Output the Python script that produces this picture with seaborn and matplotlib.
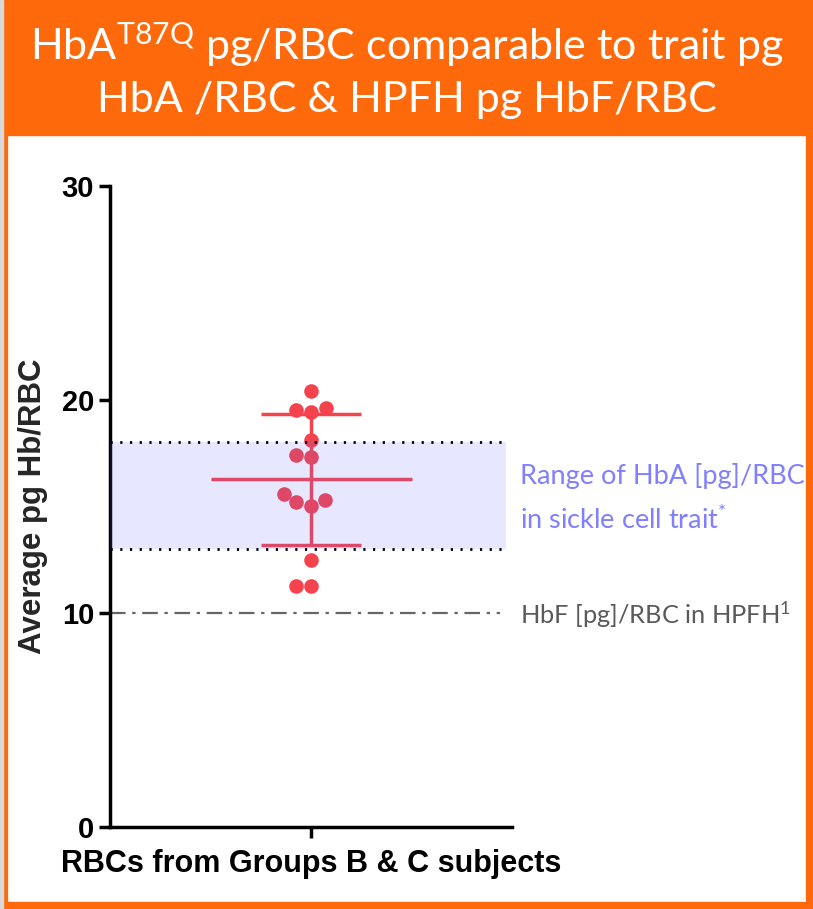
import numpy as np
import pandas as pd
import matplotlib
matplotlib.use("Agg")
import matplotlib.pyplot as plt
import matplotlib.transforms as mtransforms
from matplotlib.patches import Rectangle
import seaborn as sns

# datos
grupo = "RBCs from Groups B & C subjects"
valores = [20.4, 19.5, 19.4, 19.6, 18.1, 17.4, 17.3, 15.2, 15.0, 15.3, 15.6, 12.5, 11.3, 11.3]
rango_rasgo = [13.0, 18.0]   # HbA pg/RBC en rasgo falciforme
hbf_hpfh = 10.0              # HbF pg/RBC en HPFH
ticks_y = [0, 10, 20, 30]

df = pd.DataFrame({"grupo": grupo, "pg": valores})
media = np.mean(valores)
sd = np.std(valores, ddof=1)

NARANJA = "#FE6A0B"
ROJO = "#F5434D"

sns.set_theme(style="ticks")
plt.rcParams['font.family'] = ['Liberation Sans', 'DejaVu Sans']
plt.rcParams['mathtext.fontset'] = 'custom'
plt.rcParams['mathtext.rm'] = 'Lato'
plt.rcParams['mathtext.it'] = 'Lato'

fig = plt.figure(figsize=(8.13, 9.09), dpi=100)
ax = fig.add_axes([0.1353, 0.0902, 0.4945, 0.7052])

sns.swarmplot(data=df, x="grupo", y="pg", color=ROJO, size=10.5, ax=ax, zorder=3)

# media +/- SD
ax.hlines(media, -0.25, 0.25, color=ROJO, lw=2.5, zorder=3)
ax.vlines(0, media - sd, media + sd, color=ROJO, lw=2.5, zorder=3)
ax.hlines([media - sd, media + sd], -0.125, 0.125, color=ROJO, lw=2.5, zorder=3)

# banda del rasgo falciforme
ax.axhspan(rango_rasgo[0], rango_rasgo[1], xmax=0.985, color=(0.39, 0.39, 1.0),
           alpha=0.15, lw=0, zorder=4)
for v in rango_rasgo:
    ax.axhline(v, xmax=0.985, color="black", lw=2, ls=(0, (0.8, 2.7)), zorder=5)
ax.axhline(hbf_hpfh, xmax=0.97, color="#666666", lw=1.6, ls=(0, (7, 3, 1.5, 3)), zorder=2)

ax.set_xlim(-0.5, 0.5)
ax.set_ylim(0, 30)
ax.set_yticks(ticks_y)
ax.set_xlabel("")
ax.set_ylabel("Average pg Hb/RBC", fontsize=22.5, fontweight="bold", labelpad=10)
sns.despine(ax=ax)
for s in ["left", "bottom"]:
    ax.spines[s].set_linewidth(2.5)
    ax.spines[s].set_color("black")
ax.tick_params(width=2.5, length=8, colors="black")
ax.tick_params(axis="y", labelsize=21)
ax.tick_params(axis="x", labelsize=22, pad=8)
for t in ax.get_xticklabels() + ax.get_yticklabels():
    t.set_fontweight("bold")

# textos a la derecha
trans = mtransforms.blended_transform_factory(ax.transAxes, ax.transData)
ax.text(1.02, 16.05, "Range of HbA [pg]/RBC", transform=trans, family="Lato",
        fontsize=19.5, color="#7F7FFF", va="baseline", clip_on=False)
ax.text(1.02, 13.94, r"in sickle cell trait$^{\mathrm{*}}$", transform=trans, family="Lato",
        fontsize=19.5, color="#7F7FFF", va="baseline", clip_on=False)
ax.text(1.02, 9.5, r"HbF [pg]/RBC in HPFH$^{\mathrm{1}}$", transform=trans, family="Lato",
        fontsize=18.3, color="#5A5A5A", va="baseline", clip_on=False)

# encabezado naranja y marco
fig.patches.append(Rectangle((0, 1 - 135 / 909), 1, 135 / 909, transform=fig.transFigure,
                             color=NARANJA, zorder=0))
fig.patches.append(Rectangle((0, 0), 1, 1, transform=fig.transFigure, fill=False,
                             edgecolor=NARANJA, lw=11, zorder=0))
fig.patches.append(Rectangle((0, 0), 3 / 813, 1, transform=fig.transFigure,
                             color="#D9D9D9", zorder=1))
fig.text(0.5, 1 - 45 / 909, r"HbA$^{\mathrm{T87Q}}$ pg/RBC comparable to trait pg",
         ha="center", va="center", color="white", family="Lato", fontsize=31)
fig.text(0.5, 1 - 100 / 909, "HbA /RBC & HPFH pg HbF/RBC",
         ha="center", va="center", color="white", family="Lato", fontsize=31)

fig.savefig("out.png", dpi=100)
